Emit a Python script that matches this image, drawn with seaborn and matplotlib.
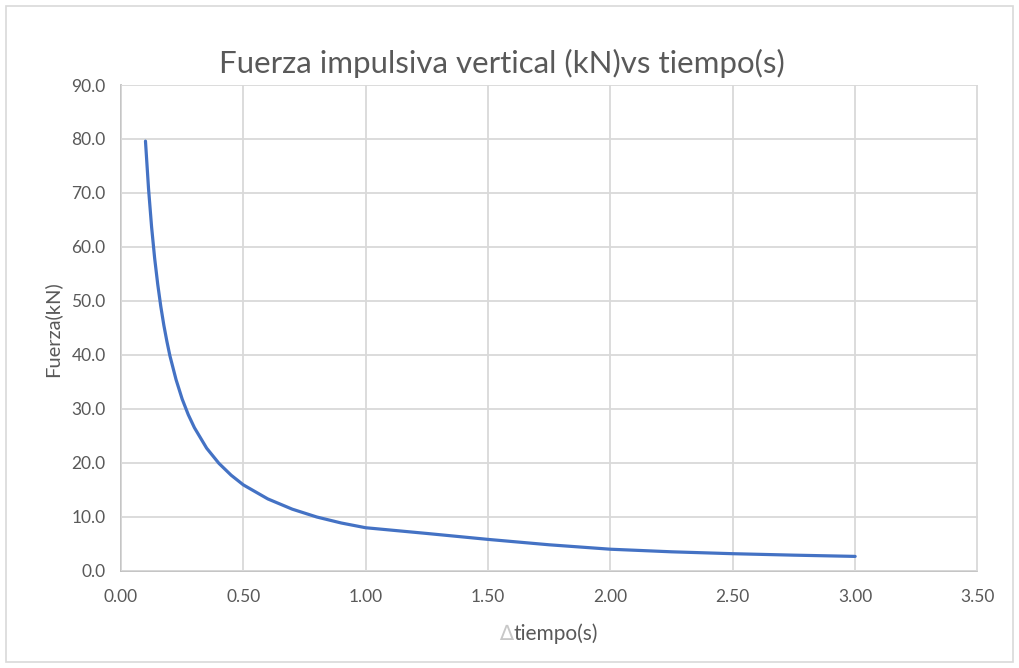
import matplotlib
matplotlib.use("Agg")
import matplotlib.pyplot as plt
import matplotlib.patches as mpatches
from matplotlib.ticker import FormatStrFormatter, MultipleLocator
import seaborn as sns
import pandas as pd

# Impact duration (s) and the average vertical impulsive force (kN)
tiempo = [0.100, 0.1125, 0.125, 0.1375, 0.150, 0.1625, 0.175, 0.1875, 0.200,
          0.225, 0.250, 0.275, 0.300, 0.350, 0.400, 0.450, 0.500, 0.600,
          0.700, 0.800, 0.900, 1.000, 1.250, 1.500, 1.750, 2.000, 2.250,
          2.500, 2.750, 3.000]
fuerza = [79.6, 70.8, 63.7, 57.9, 53.1, 49.0, 45.5, 42.5, 39.8,
          35.4, 31.8, 28.9, 26.5, 22.7, 19.9, 17.7, 15.9, 13.3,
          11.4, 9.95, 8.84, 7.96, 6.9, 5.8, 4.8, 3.98, 3.5,
          3.15, 2.88, 2.65]

titulo = "Fuerza impulsiva vertical (kN)vs tiempo(s)"
etiqueta_y = "Fuerza(kN)"
etiqueta_x = "tiempo(s)"

df = pd.DataFrame({"tiempo": tiempo, "fuerza": fuerza})

sns.set_theme(style="whitegrid")
plt.rcParams["font.family"] = ["Lato", "DejaVu Sans"]

W, H = 1019, 668
fig = plt.figure(figsize=(W / 100, H / 100), dpi=100)
fig.patch.set_facecolor("white")

left, right = 121 / W, 977.5 / W
bottom, top = 1 - 570.7 / H, 1 - 85 / H
ax = fig.add_axes([left, bottom, right - left, top - bottom])

sns.lineplot(data=df, x="tiempo", y="fuerza", ax=ax, color="#4472C4",
             linewidth=2.3, sort=False, estimator=None)

ax.set_xlim(0, 3.5)
ax.set_ylim(0, 90)
ax.xaxis.set_major_locator(MultipleLocator(0.5))
ax.yaxis.set_major_locator(MultipleLocator(10))
ax.xaxis.set_major_formatter(FormatStrFormatter("%.2f"))
ax.yaxis.set_major_formatter(FormatStrFormatter("%.1f"))

grid_c = "#d9d9d9"
ax.grid(True, color=grid_c, linewidth=1.3)
ax.set_axisbelow(True)
for side in ["top", "right"]:
    ax.spines[side].set_visible(False)
for side in ["left", "bottom"]:
    ax.spines[side].set_color("#bfbfbf")
    ax.spines[side].set_linewidth(1.3)
    ax.spines[side].set_zorder(0.5)

ax.tick_params(axis="both", length=0, labelsize=12.5, labelcolor="#595959")
ax.tick_params(axis="y", pad=11)
ax.tick_params(axis="x", pad=13)

ax.set_xlabel("")
ax.set_ylabel("")
fig.text(52 / W, 1 - 329 / H, etiqueta_y, rotation=90, ha="center",
         va="center", fontsize=14.5, color="#595959")

fig.text(502 / W, 1 - 63 / H, titulo, ha="center", va="center",
         fontsize=22.5, color="#595959")

# x-axis title: pale delta symbol followed by the label
fig.text(513 / W, 1 - 634 / H, etiqueta_x, ha="left", va="center",
         fontsize=15, color="#595959")
fig.text(513 / W, 1 - 634 / H, "\u2206", ha="right", va="center",
         fontsize=15, color="#c8c8c8", family=["DejaVu Sans"])

# chart area frame
fig.patches.append(mpatches.Rectangle((6 / W, 6 / H), 1 - 12 / W, 1 - 12 / H,
                                      transform=fig.transFigure, fill=False,
                                      edgecolor="#d9d9d9", linewidth=1.2))

fig.savefig("out.png", dpi=100, facecolor="white")
